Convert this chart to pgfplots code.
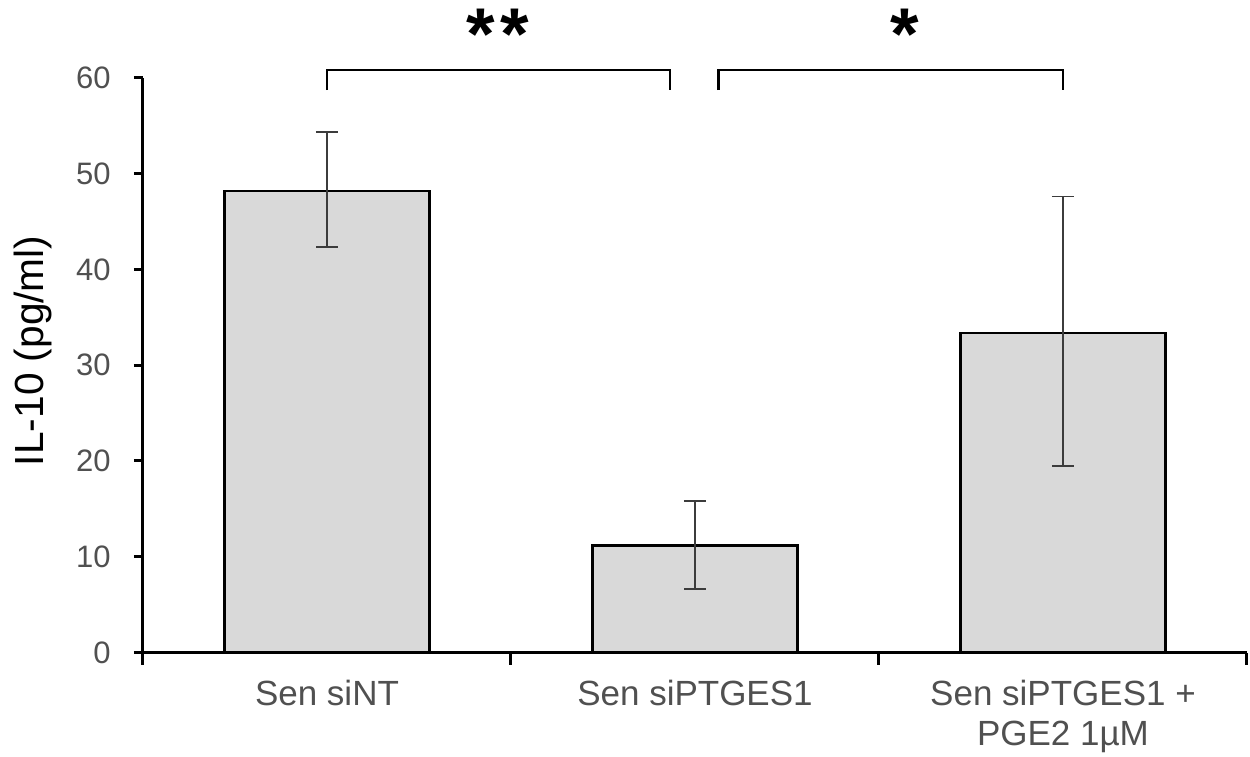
\documentclass[border=0pt]{standalone}
\usepackage{fontspec}
\setmainfont{Liberation Sans}
\usepackage{pgfplots}
\pgfplotsset{compat=1.18}
\definecolor{barfill}{RGB}{217,217,217}
\definecolor{ticktext}{RGB}{80,80,80}
\definecolor{errc}{RGB}{60,60,60}
\begin{document}
\begin{tikzpicture}
\path[use as bounding box] (-42.9pt,-31.3pt) rectangle (332.1pt,195.8pt);
\begin{axis}[
  at={(0,0)}, anchor=south west,
  scale only axis, width=331.2pt, height=172.5pt,
  xmin=-0.5, xmax=2.5, ymin=0, ymax=60,
  axis x line*=bottom, axis y line*=left,
  axis line style={line width=0.9pt, black},
  ytick={0,10,...,60},
  xtick={0,1,2},
  xticklabels={Sen siNT, Sen siPTGES1, {Sen siPTGES1 +\\PGE2 1µM}},
  minor xtick={-0.5,0.5,1.5,2.5},
  tick align=outside,
  major tick length=2.7pt,
  minor tick length=3.6pt,
  major x tick style={draw=none},
  minor x tick style={line width=0.9pt, black},
  ytick style={line width=0.9pt, black},
  y tick label style={font=\fontsize{9.3}{11}\selectfont, text=ticktext, xshift=-3.5pt},
  x tick label style={font=\fontsize{10.5}{12.2}\selectfont, text=ticktext, align=center, anchor=north, yshift=-1.9pt},
  /pgf/number format/assume math mode=true,
  ylabel={IL-10 (pg/ml)},
  ylabel style={at={(rel axis cs:-0.0996,0.525)}, anchor=center, font=\fontsize{12.2}{14}\selectfont},
  clip=false,
]
\addplot[ybar, bar width=0.558, fill=barfill, draw=black, line width=0.8pt,
  error bars/.cd, y dir=both, y explicit,
  error bar style={line width=0.5pt, errc},
  error mark options={rotate=90, mark size=3.3pt, line width=0.5pt, errc}]
  coordinates {
    (0,48.16) += (0,6.2) -= (0,5.81)
    (1,11.18) += (0,4.62) -= (0,4.53)
    (2,33.36) += (0,14.24) -= (0,13.86)
  };
\draw[line width=0.65pt] (axis cs:0,58.7) -- (axis cs:0,60.84) -- (axis cs:0.933,60.84) -- (axis cs:0.933,58.7);
\draw[line width=0.65pt] (axis cs:1.064,58.7) -- (axis cs:1.064,60.84) -- (axis cs:2.0,60.84) -- (axis cs:2.0,58.7);
\node[anchor=base, inner sep=0pt, font=\fontsize{22}{22}\selectfont\bfseries] at (axis cs:0.464,61.9) {*\kern1.8pt*};
\node[anchor=base, inner sep=0pt, font=\fontsize{22}{22}\selectfont\bfseries] at (axis cs:1.57,61.9) {*};
\end{axis}
\end{tikzpicture}
\end{document}
